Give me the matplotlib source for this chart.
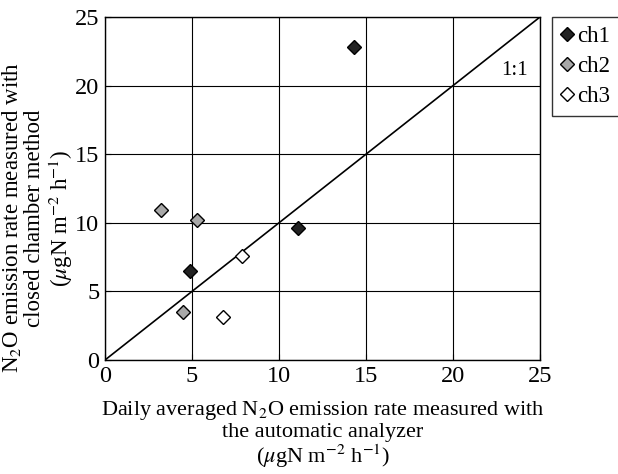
import matplotlib
matplotlib.use("Agg")
import matplotlib.pyplot as plt

plt.rcParams['font.family'] = ['Liberation Serif', 'DejaVu Serif']
plt.rcParams['mathtext.fontset'] = 'stix'

# Emission rates: automatic analyzer (x) vs closed chamber (y), ugN m-2 h-1
series = ['ch1', 'ch2', 'ch3']
ch1_x = [14.3, 11.1, 4.9]
ch1_y = [22.8, 9.6, 6.5]
ch2_x = [3.2, 5.3, 4.5]
ch2_y = [10.9, 10.2, 3.5]
ch3_x = [7.9, 6.8]
ch3_y = [7.6, 3.1]
fills = ['#222222', '#a8a8a8', 'white']
ticks = [0, 5, 10, 15, 20, 25]

fig = plt.figure(figsize=(6.18, 4.74), dpi=100)
ax = fig.add_axes([105/618, 1 - 360/474, 435/618, 343/474])

ax.plot([0, 25], [0, 25], color='black', lw=1.2, zorder=2)
ax.text(24.3, 21.1, '1:1', fontsize=15, ha='right', va='center')

for name, xs, ys, fc in zip(series, [ch1_x, ch2_x, ch3_x], [ch1_y, ch2_y, ch3_y], fills):
    ax.plot(xs, ys, linestyle='none', marker='D', markersize=7.5,
            markerfacecolor=fc, markeredgecolor='black', markeredgewidth=1.0,
            label=name, zorder=3)

ax.set_xlim(0, 25)
ax.set_ylim(0, 25)
ax.set_xticks(ticks)
ax.set_yticks(ticks)
ax.grid(True, color='black', lw=0.8)
ax.set_axisbelow(True)
ax.tick_params(direction='in', length=4, labelsize=17.5, pad=4, color='black')
for sp in ax.spines.values():
    sp.set_linewidth(1.0)

ax.set_xlabel('Daily averaged N$_2$O emission rate measured with\nthe automatic analyzer\n'
              '($\\mu$gN m$^{-2}$ h$^{-1}$)', fontsize=16, linespacing=1.05, labelpad=9)
ax.set_ylabel('N$_2$O emission rate measured with\nclosed chamber method\n'
              '($\\mu$gN m$^{-2}$ h$^{-1}$)', fontsize=16.5, linespacing=1.05)
ax.yaxis.set_label_coords(-0.07, 0.414)

leg = fig.legend(loc='upper left', bbox_to_anchor=(552/618, 1 - 17/474),
                 fontsize=16.5, frameon=True, fancybox=False, edgecolor='black',
                 handlelength=0.5, handletextpad=0.2, labelspacing=0.38,
                 borderpad=0.4, borderaxespad=0, markerscale=0.9)
leg.get_frame().set_linewidth(1.0)

fig.savefig('out.png', dpi=100)
